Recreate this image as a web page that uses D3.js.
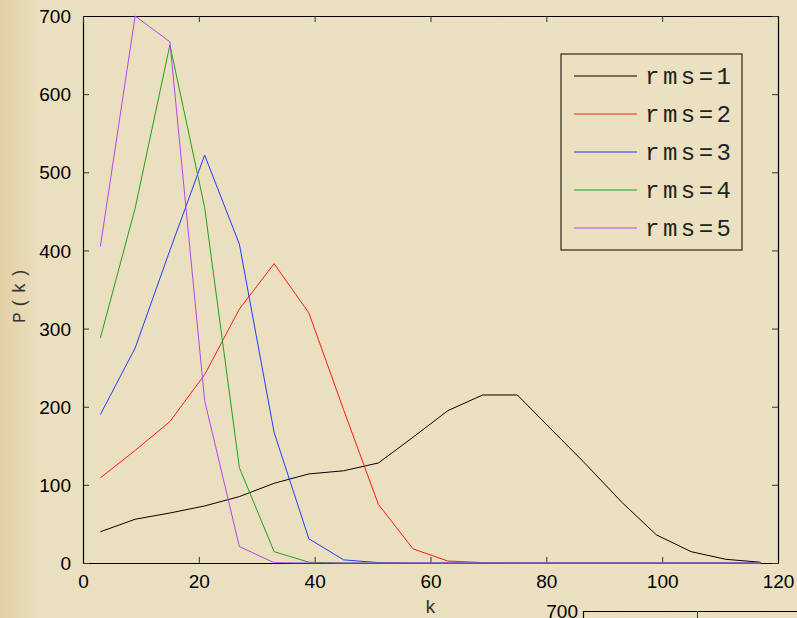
<!DOCTYPE html>
<html>
<head>
<meta charset="utf-8">
<script src="https://cdn.jsdelivr.net/npm/d3@7"></script>
<style>
  body { margin: 0; padding: 0; overflow: hidden; }
  svg { display: block; }
</style>
</head>
<body>
<div id="chart"></div>
<script>
// chart size
var svgWidth = 797;
var svgHeight = 618;
var margin = { top: 16, right: 19, bottom: 55, left: 83 };
var width = svgWidth - margin.left - margin.right;
var height = svgHeight - margin.top - margin.bottom;

// data
var kValues = [3, 9, 15, 21, 27, 33, 39, 45, 51, 57, 63, 69, 75, 81, 87, 93, 99, 105, 111, 117];
var rms1 = [40, 56, 64, 73, 85, 102, 114, 118, 128, 161, 195, 215, 215, 170, 125, 78, 36, 14.5, 4.7, 1];
var rms2 = [109, 144, 181, 241, 325, 383, 320, 196, 75, 18, 2.5, 0.5, 0, 0, 0, 0, 0, 0, 0, 0];
var rms3 = [190, 275, 400, 522, 408, 167, 31, 4, 0.5, 0, 0, 0, 0, 0, 0, 0, 0, 0, 0, 0];
var rms4 = [288, 454, 663, 455, 122, 14.5, 1, 0, 0, 0, 0, 0, 0, 0, 0, 0, 0, 0, 0, 0];
var rms5 = [405, 700, 667, 208, 21, 0.4, 0, 0, 0, 0, 0, 0, 0, 0, 0, 0, 0, 0, 0, 0];
var seriesNames = ["rms=1", "rms=2", "rms=3", "rms=4", "rms=5"];
var xTicks = [0, 20, 40, 60, 80, 100, 120];
var yTicks = [0, 100, 200, 300, 400, 500, 600, 700];

var allSeries = [rms1, rms2, rms3, rms4, rms5];
var colors = ["#000000", "#ff1a1a", "#1f3dff", "#1fa01f", "#b444f5"];

var svg = d3.select("#chart")
    .append("svg")
    .attr("width", svgWidth)
    .attr("height", svgHeight);

// background with darker left edge
var defs = svg.append("defs");
var grad = defs.append("linearGradient")
    .attr("id", "bg")
    .attr("x1", "0").attr("x2", "1").attr("y1", "0").attr("y2", "0");
grad.append("stop").attr("offset", "0").attr("stop-color", "#e2d0a6");
grad.append("stop").attr("offset", "0.05").attr("stop-color", "#eadfbe");
grad.append("stop").attr("offset", "1").attr("stop-color", "#ebe0c0");

svg.append("rect")
    .attr("width", svgWidth)
    .attr("height", svgHeight)
    .attr("fill", "url(#bg)");

var chartGroup = svg.append("g")
    .attr("transform", `translate(${margin.left},${margin.top})`);

var xScale = d3.scaleLinear().domain([0, 120]).range([0, width]);
var yScale = d3.scaleLinear().domain([0, 700]).range([height, 0]);

var tickFont = "'Liberation Sans', Arial, sans-serif";
var monoFont = "'Liberation Mono', 'Courier New', monospace";

// axes: ticks inward
var bottomAxis = d3.axisBottom(xScale).tickValues(xTicks).tickSizeInner(-6).tickSizeOuter(0).tickPadding(12);
var leftAxis = d3.axisLeft(yScale).tickValues(yTicks).tickSizeInner(-6).tickSizeOuter(0).tickPadding(12);
var topAxis = d3.axisTop(xScale).tickValues(xTicks).tickSizeInner(-6).tickSizeOuter(0).tickFormat("");
var rightAxis = d3.axisRight(yScale).tickValues(yTicks).tickSizeInner(-6).tickSizeOuter(0).tickFormat("");

function styleAxis(g) {
    g.select(".domain").attr("stroke", "#000").attr("stroke-width", 1.2);
    g.selectAll(".tick line").attr("stroke", "#333").attr("stroke-width", 1);
    g.selectAll(".tick text")
        .attr("fill", "#000")
        .style("font-family", tickFont)
        .style("font-size", "19px");
}

chartGroup.append("g").attr("transform", `translate(0,${height})`).call(bottomAxis).call(styleAxis);
chartGroup.append("g").call(leftAxis).call(styleAxis)
    .selectAll(".tick text").attr("dy", "0.35em");
chartGroup.append("g").call(topAxis).call(styleAxis);
chartGroup.append("g").attr("transform", `translate(${width},0)`).call(rightAxis).call(styleAxis);

// lines
var line = d3.line()
    .x((d, i) => xScale(kValues[i]))
    .y(d => yScale(d));

allSeries.forEach(function(s, i) {
    chartGroup.append("path")
        .datum(s)
        .attr("fill", "none")
        .attr("stroke", colors[i])
        .attr("stroke-width", 1)
        .attr("d", line);
});

// axis labels
chartGroup.append("text")
    .attr("x", xScale(60))
    .attr("y", height + 50)
    .attr("text-anchor", "middle")
    .style("font-family", monoFont)
    .style("font-size", "19px")
    .attr("fill", "#333")
    .text("k");

chartGroup.append("text")
    .attr("transform", `translate(${-58},${yScale(350) + 4}) rotate(-90)`)
    .attr("text-anchor", "middle")
    .style("font-family", monoFont)
    .style("font-size", "18px")
    .style("letter-spacing", "4px")
    .attr("fill", "#333")
    .text("P(k)");

// legend
var legend = svg.append("g").attr("transform", "translate(561,54)");
legend.append("rect")
    .attr("width", 181)
    .attr("height", 196)
    .attr("fill", "#ebe0c0")
    .attr("stroke", "#000")
    .attr("stroke-width", 1);

seriesNames.forEach(function(name, i) {
    var y = 22 + i * 38;
    legend.append("line")
        .attr("x1", 13).attr("x2", 76)
        .attr("y1", y).attr("y2", y)
        .attr("stroke", colors[i])
        .attr("stroke-width", 1);
    legend.append("text")
        .attr("x", 84)
        .attr("y", y)
        .attr("dy", "0.35em")
        .style("font-family", monoFont)
        .style("font-size", "24px")
        .style("letter-spacing", "3.5px")
        .attr("fill", "#222")
        .text(name);
});

// next subplot peeking in at the bottom
var sub = svg.append("g");
sub.append("text")
    .attr("x", 578)
    .attr("y", 611)
    .attr("dy", "0.35em")
    .attr("text-anchor", "end")
    .style("font-family", tickFont)
    .style("font-size", "19px")
    .attr("fill", "#000")
    .text("700");
sub.append("path")
    .attr("d", "M583.5,618 V611.5 H797")
    .attr("fill", "none")
    .attr("stroke", "#000")
    .attr("stroke-width", 1.2);
sub.append("line")
    .attr("x1", 697.5).attr("x2", 697.5)
    .attr("y1", 611).attr("y2", 618)
    .attr("stroke", "#333");
</script>
</body>
</html>
